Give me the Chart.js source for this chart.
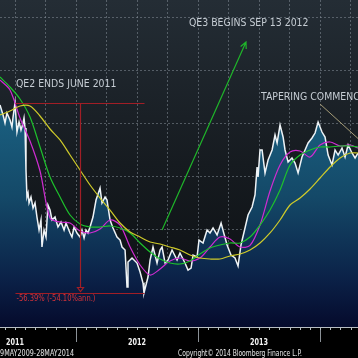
<!DOCTYPE html>
<html>
<head>
<meta charset="utf-8">
<script src="https://cdn.jsdelivr.net/npm/chart.js@4.4.0/dist/chart.umd.min.js"></script>
<style>
  html, body { margin: 0; padding: 0; background: #000; }
  canvas { display: block; }
</style>
</head>
<body>
<canvas id="chart" width="358" height="358"></canvas>
<script>
// dates are decimal years
const priceDates = [2011.377, 2011.402, 2011.418, 2011.434, 2011.459, 2011.475, 2011.484, 2011.500, 2011.516, 2011.533,
  2011.549, 2011.566, 2011.574, 2011.582, 2011.590, 2011.598, 2011.607, 2011.615, 2011.631, 2011.648,
  2011.664, 2011.680, 2011.697, 2011.713, 2011.721, 2011.738, 2011.754, 2011.770, 2011.787, 2011.803,
  2011.828, 2011.852, 2011.877, 2011.902, 2011.918, 2011.951, 2011.967, 2011.984, 2012.008, 2012.033,
  2012.049, 2012.066, 2012.082, 2012.098, 2012.115, 2012.139, 2012.164, 2012.197, 2012.213, 2012.238,
  2012.254, 2012.279, 2012.303, 2012.336, 2012.361, 2012.377, 2012.402, 2012.418, 2012.426, 2012.459,
  2012.500, 2012.525, 2012.549, 2012.557, 2012.590, 2012.607, 2012.631, 2012.664, 2012.689, 2012.705,
  2012.730, 2012.754, 2012.787, 2012.828, 2012.852, 2012.893, 2012.918, 2012.943, 2012.959, 2012.992,
  2013.008, 2013.041, 2013.074, 2013.098, 2013.123, 2013.156, 2013.189, 2013.213, 2013.238, 2013.270,
  2013.303, 2013.328, 2013.352, 2013.385, 2013.410, 2013.443, 2013.467, 2013.484, 2013.492, 2013.508,
  2013.525, 2013.549, 2013.574, 2013.607, 2013.631, 2013.648, 2013.672, 2013.697, 2013.713, 2013.738,
  2013.770, 2013.795, 2013.820, 2013.852, 2013.877, 2013.902, 2013.934, 2013.959, 2013.984, 2014.016,
  2014.041, 2014.066, 2014.098, 2014.123, 2014.148, 2014.180, 2014.205, 2014.230, 2014.262, 2014.287,
  2014.311];
const price = [63.40, 61.51, 60.00, 61.89, 60.57, 59.25, 61.13, 63.77, 58.30, 60.19,
  58.68, 60.00, 60.94, 59.06, 51.13, 46.04, 46.79, 44.91, 46.04, 43.96,
  44.91, 42.26, 39.81, 41.70, 36.60, 39.81, 38.49, 44.53, 43.58, 41.70,
  42.26, 40.38, 41.32, 39.81, 41.13, 39.25, 38.49, 40.38, 39.25, 38.49,
  39.81, 38.30, 39.81, 39.25, 40.38, 42.26, 45.47, 47.74, 44.91, 46.04,
  45.47, 41.70, 40.19, 38.49, 37.92, 36.60, 36.04, 29.06, 33.77, 34.53,
  33.58, 31.89, 29.81, 27.92, 30.94, 34.15, 36.60, 33.58, 36.04, 36.60,
  33.58, 34.15, 36.04, 34.15, 35.47, 33.58, 32.26, 32.64, 35.09, 34.72,
  37.92, 37.36, 39.81, 39.25, 40.19, 38.87, 41.13, 39.06, 36.98, 35.09,
  34.53, 33.02, 36.98, 40.19, 42.64, 44.15, 46.42, 51.70, 49.81, 54.91,
  54.91, 50.57, 53.02, 54.91, 57.74, 56.23, 59.62, 57.36, 54.91, 52.64,
  53.40, 52.45, 50.57, 53.58, 54.91, 56.23, 57.17, 58.11, 60.19, 58.30,
  57.36, 53.96, 52.08, 54.91, 53.96, 55.28, 53.58, 55.85, 54.34, 53.40,
  54.34];

const maDates = [2011.377, 2011.459, 2011.541, 2011.623, 2011.705, 2011.787, 2011.869, 2011.951, 2012.033, 2012.115,
  2012.197, 2012.279, 2012.361, 2012.443, 2012.525, 2012.607, 2012.689, 2012.770, 2012.852, 2012.934,
  2013.016, 2013.098, 2013.180, 2013.262, 2013.344, 2013.426, 2013.508, 2013.590, 2013.672, 2013.754,
  2013.836, 2013.918, 2014.000, 2014.082, 2014.164, 2014.246, 2014.311];
const maFast = [68.11, 66.23, 60.94, 56.60, 50.94, 42.08, 41.32, 41.13, 39.62, 39.25,
  40.00, 41.70, 40.75, 36.60, 33.21, 31.32, 32.45, 33.96, 34.53, 33.96,
  34.53, 36.60, 38.49, 38.11, 36.60, 36.90, 40.75, 47.17, 52.08, 54.53,
  54.72, 53.58, 55.85, 56.42, 55.66, 55.85, 55.28];
const maMid = [68.68, 66.79, 64.53, 61.13, 55.47, 49.81, 46.04, 42.64, 40.94, 40.38,
  40.38, 40.57, 40.19, 39.25, 37.36, 35.66, 34.34, 33.58, 33.40, 33.96,
  35.28, 36.42, 36.98, 37.36, 37.36, 38.49, 40.75, 43.58, 47.36, 52.08,
  53.96, 54.91, 55.47, 55.47, 55.66, 55.66, 55.47];
const maSlow = [61.51, 62.26, 63.21, 63.21, 61.32, 58.87, 56.80, 53.96, 51.13, 48.30,
  45.85, 43.58, 41.13, 39.43, 38.49, 37.55, 37.17, 36.60, 36.04, 35.09,
  34.53, 34.34, 34.34, 34.91, 35.28, 36.04, 37.36, 39.25, 41.70, 44.53,
  45.85, 47.55, 49.62, 51.70, 53.40, 54.34, 54.34];

const xMin = 2011.377, xMax = 2014.311;
const yMin = 21.51, yMax = 83.21;
const yearLabels = ['2011', '2012', '2013'];

const notes = [
  { text: 'QE2 ENDS JUNE 2011', x: 2011.508, y: 67.36 },
  { text: 'QE3 BEGINS SEP 13 2012', x: 2012.926, y: 78.87 },
  { text: 'TAPERING COMMENCES', x: 2013.516, y: 64.91 }
];
const qe3Arrow = { x1: 2012.705, y1: 39.81, x2: 2013.393, y2: 75.28 };
const taperLine = { x1: 2014.0, y1: 63.58, x2: 2014.656, y2: 49.87 };
const drawdownText = '-56.39% (-54.10%ann.)';

const pts = (xs, ys) => xs.map((x, i) => ({ x: x, y: ys[i] }));
const FONT = '"DejaVu Sans Condensed", "DejaVu Sans", sans-serif';

const backdrop = {
  id: 'backdrop',
  beforeDraw(chart) {
    const { ctx, chartArea: a, width, height } = chart;
    ctx.save();
    ctx.fillStyle = '#000';
    ctx.fillRect(0, 0, width, height);
    const g = ctx.createLinearGradient(0, a.top, 0, a.bottom);
    g.addColorStop(0, '#242d35');
    g.addColorStop(0.5, '#161b20');
    g.addColorStop(1, '#0b0e11');
    ctx.fillStyle = g;
    ctx.fillRect(a.left, a.top, a.right - a.left, a.bottom - a.top);
    ctx.restore();
  }
};

const extras = {
  id: 'extras',
  afterDraw(chart) {
    const { ctx, chartArea: a } = chart;
    const xs = chart.scales.x, ys = chart.scales.y;
    const X = v => xs.getPixelForValue(v), Y = v => ys.getPixelForValue(v);
    ctx.save();

    // axis line and ticks
    ctx.strokeStyle = '#b8bdc2';
    ctx.lineWidth = 1;
    ctx.beginPath();
    ctx.moveTo(a.left, a.bottom + 0.5);
    ctx.lineTo(a.right, a.bottom + 0.5);
    for (let yr = 2011; yr <= 2014; yr++) {
      for (let m = 0; m < 12; m++) {
        const v = yr + m / 12;
        if (v < xMin || v > xMax) continue;
        const px = Math.round(X(v)) + 0.5;
        ctx.moveTo(px, a.bottom);
        ctx.lineTo(px, a.bottom + 3);
      }
    }
    ctx.stroke();
    ctx.strokeStyle = '#8a9096';
    ctx.beginPath();
    for (let yr = 2012; yr <= 2014; yr++) {
      const px = Math.round(X(yr)) + 0.5;
      ctx.moveTo(px, a.bottom + 3);
      ctx.lineTo(px, a.bottom + 15);
    }
    ctx.stroke();

    ctx.fillStyle = '#f2f2f2';
    ctx.font = 'bold 9px ' + FONT;
    ctx.textAlign = 'center';
    ctx.textBaseline = 'middle';
    yearLabels.forEach(l => {
      const v = +l + 0.5;
      ctx.fillText(l, X(v), a.bottom + 16, 18);
    });

    ctx.font = '8.5px ' + FONT;
    ctx.fillStyle = '#e6e6e6';
    ctx.textAlign = 'right';
    ctx.fillText('29MAY2009-28MAY2014', 74, 354, 78);
    ctx.textAlign = 'left';
    ctx.fillText('Copyright\u00A9 2014 Bloomberg Finance L.P.', 178, 354, 124);

    // drawdown measure
    let hi = 0, lo = 0;
    price.forEach((p, i) => { if (p > price[hi]) hi = i; if (p < price[lo]) lo = i; });
    const xa = Math.round(X(priceDates[hi])) + 0.5, xb = Math.round(X(priceDates[lo])) + 0.5;
    const yt = Math.round(Y(price[hi])) + 0.5, yb = Math.round(Y(price[lo])) + 0.5;
    const xm = Math.round((xa + xb) / 2) + 0.5;
    ctx.strokeStyle = '#a11e26';
    ctx.lineWidth = 1.2;
    ctx.beginPath();
    ctx.moveTo(xa, yt); ctx.lineTo(xb, yt);
    ctx.moveTo(xa, yb); ctx.lineTo(xb, yb);
    ctx.moveTo(xm, yt); ctx.lineTo(xm, yb - 6);
    ctx.moveTo(xm - 3, yb - 6); ctx.lineTo(xm + 3, yb - 6); ctx.lineTo(xm, yb - 2); ctx.closePath();
    ctx.stroke();
    ctx.fillStyle = '#d0323a';
    ctx.font = '8.5px ' + FONT;
    ctx.textBaseline = 'middle';
    ctx.fillText(drawdownText, xa + 1, yb + 5, 79);

    // annotations
    ctx.fillStyle = '#c6cdd4';
    ctx.font = '10.4px ' + FONT;
    notes.forEach(n => ctx.fillText(n.text, X(n.x), Y(n.y)));

    ctx.strokeStyle = '#1fb52a';
    ctx.lineWidth = 1.2;
    const ax1 = X(qe3Arrow.x1), ay1 = Y(qe3Arrow.y1), ax2 = X(qe3Arrow.x2), ay2 = Y(qe3Arrow.y2);
    const ang = Math.atan2(ay2 - ay1, ax2 - ax1);
    ctx.beginPath();
    ctx.moveTo(ax1, ay1); ctx.lineTo(ax2, ay2);
    ctx.moveTo(ax2 - 7 * Math.cos(ang - 0.45), ay2 - 7 * Math.sin(ang - 0.45));
    ctx.lineTo(ax2, ay2);
    ctx.lineTo(ax2 - 7 * Math.cos(ang + 0.45), ay2 - 7 * Math.sin(ang + 0.45));
    ctx.stroke();

    ctx.strokeStyle = '#a59c78';
    ctx.lineWidth = 1;
    ctx.beginPath();
    ctx.moveTo(X(taperLine.x1), Y(taperLine.y1));
    ctx.lineTo(X(taperLine.x2), Y(taperLine.y2));
    ctx.stroke();

    ctx.restore();
  }
};

const lineOpts = { pointRadius: 0, tension: 0.3, fill: false, borderWidth: 1.2, order: 0 };

new Chart(document.getElementById('chart'), {
  type: 'line',
  data: {
    datasets: [
      Object.assign({ label: 'MA slow', data: pts(maDates, maSlow), borderColor: '#cfcb2a' }, lineOpts),
      Object.assign({ label: 'MA mid', data: pts(maDates, maMid), borderColor: '#1ec22c' }, lineOpts),
      Object.assign({ label: 'MA fast', data: pts(maDates, maFast), borderColor: '#d02cd2' }, lineOpts),
      {
        label: 'Price',
        data: pts(priceDates, price),
        borderColor: '#eef3f6',
        borderWidth: 1.5,
        pointRadius: 0,
        tension: 0,
        order: 1,
        fill: 'start',
        backgroundColor: (c) => {
          const a = c.chart.chartArea;
          if (!a) return 'rgba(0,0,0,0)';
          const g = c.chart.ctx.createLinearGradient(0, a.top, 0, a.bottom);
          g.addColorStop(0, '#217aa2');
          g.addColorStop(0.3, '#1b6384');
          g.addColorStop(0.6, '#144968');
          g.addColorStop(0.85, '#0b2248');
          g.addColorStop(1, '#050a2c');
          return g;
        }
      }
    ]
  },
  options: {
    responsive: false,
    devicePixelRatio: 1,
    animation: false,
    layout: { padding: { left: 0, right: 0, top: 0, bottom: 31 } },
    plugins: { legend: { display: false }, tooltip: { enabled: false } },
    scales: {
      x: {
        type: 'linear', min: xMin, max: xMax, z: 1,
        ticks: { display: false, stepSize: 0.25, includeBounds: false },
        grid: { color: 'rgba(140,150,160,0.5)', drawTicks: false },
        border: { display: false, dash: [2, 2] },
        afterFit: s => { s.height = 0; }
      },
      y: {
        min: yMin, max: yMax, z: 1,
        ticks: { display: false, stepSize: 10, includeBounds: false },
        grid: { color: 'rgba(140,150,160,0.5)', drawTicks: false },
        border: { display: false, dash: [2, 2] },
        afterFit: s => { s.width = 0; }
      }
    }
  },
  plugins: [backdrop, extras]
});
</script>
</body>
</html>
